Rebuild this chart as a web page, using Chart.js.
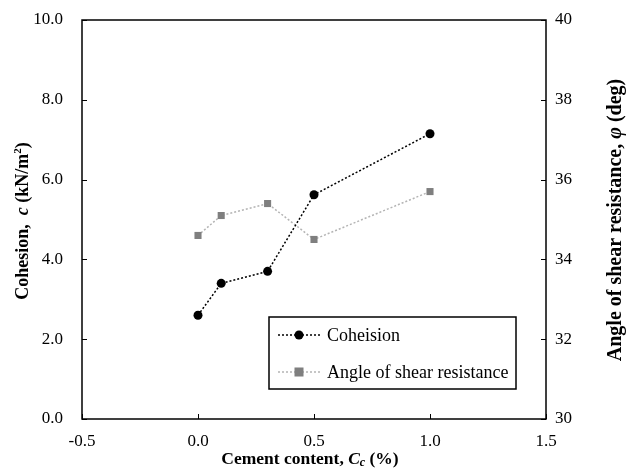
<!DOCTYPE html>
<html>
<head>
<meta charset="utf-8">
<script src="https://cdn.jsdelivr.net/npm/chart.js@4.4.1/dist/chart.umd.min.js"></script>
<style>
  html, body { margin: 0; padding: 0; background: #ffffff; }
  #wrap { width: 633px; height: 475px; position: relative; }
</style>
</head>
<body>
<div id="wrap"><canvas id="c" width="633" height="475"></canvas></div>
<script>
// ---- Data ----
const cementContent = [0.0, 0.1, 0.3, 0.5, 1.0];           // Cc (%)
const cohesionValues = [2.6, 3.4, 3.7, 5.62, 7.15];         // c (kN/m2)
const shearAngleValues = [34.6, 35.1, 35.4, 34.5, 35.7];    // phi (deg)
const seriesNames = ['Coheision', 'Angle of shear resistance'];
const xTickValues = [-0.5, 0.0, 0.5, 1.0, 1.5];
const yLeftTickValues = [0, 2, 4, 6, 8, 10];
const yRightTickValues = [30, 32, 34, 36, 38, 40];

const SERIF = '"Liberation Serif", "Times New Roman", serif';

function toPoints(xs, ys) { return xs.map((x, i) => ({ x: x, y: ys[i] })); }

// Draw text made of several styled parts, centred on (cx, cy), optionally rotated
function drawRich(ctx, parts, cx, cy, rot) {
  ctx.save();
  ctx.translate(cx, cy);
  if (rot) ctx.rotate(rot);
  let total = 0;
  parts.forEach(p => { ctx.font = p.font; p.w = ctx.measureText(p.text).width; total += p.w; });
  let x = -total / 2;
  ctx.textBaseline = 'middle';
  ctx.textAlign = 'left';
  ctx.fillStyle = '#000';
  parts.forEach(p => { ctx.font = p.font; ctx.fillText(p.text, x, p.dy || 0); x += p.w; });
  ctx.restore();
}

const framePlugin = {
  id: 'frameAndTitles',
  afterDraw(chart) {
    const ctx = chart.ctx;
    const a = chart.chartArea;
    const xs = chart.scales.x, yl = chart.scales.y, yr = chart.scales.y1;
    ctx.save();
    ctx.strokeStyle = '#000';
    ctx.lineWidth = 1.5;
    ctx.strokeRect(a.left, a.top, a.right - a.left, a.bottom - a.top);
    ctx.lineWidth = 1;
    const tl = 5;
    ctx.beginPath();
    xTickValues.forEach(v => { const px = Math.round(xs.getPixelForValue(v)) + 0.5; ctx.moveTo(px, a.bottom); ctx.lineTo(px, a.bottom - tl); });
    yLeftTickValues.forEach(v => { const py = Math.round(yl.getPixelForValue(v)) + 0.5; ctx.moveTo(a.left, py); ctx.lineTo(a.left + tl, py); });
    yRightTickValues.forEach(v => { const py = Math.round(yr.getPixelForValue(v)) + 0.5; ctx.moveTo(a.right, py); ctx.lineTo(a.right - tl, py); });
    ctx.stroke();

    // Legend box (inside plot)
    const lx = 269, ly = 317, lw = 247, lh = 72;
    ctx.fillStyle = '#fff';
    ctx.fillRect(lx, ly, lw, lh);
    ctx.lineWidth = 1.5;
    ctx.strokeStyle = '#000';
    ctx.strokeRect(lx, ly, lw, lh);
    chart.data.datasets.forEach((ds, i) => {
      const cy = ly + 18 + i * 37;
      ctx.save();
      ctx.strokeStyle = ds.borderColor;
      ctx.lineWidth = ds.borderWidth;
      ctx.setLineDash(ds.borderDash);
      ctx.beginPath(); ctx.moveTo(lx + 9, cy); ctx.lineTo(lx + 51, cy); ctx.stroke();
      ctx.restore();
      ctx.fillStyle = ds.pointBackgroundColor;
      if (ds.pointStyle === 'rect') {
        ctx.fillRect(lx + 30 - 4.5, cy - 4.5, 9, 9);
      } else {
        ctx.beginPath(); ctx.arc(lx + 30, cy, 4.5, 0, Math.PI * 2); ctx.fill();
      }
      ctx.fillStyle = '#000';
      ctx.font = '18px ' + SERIF;
      ctx.textBaseline = 'middle';
      ctx.textAlign = 'left';
      ctx.fillText(ds.label, lx + 58, cy + 1);
    });

    // Axis titles
    const fB = s => 'bold ' + s + 'px ' + SERIF, fBI = s => 'italic bold ' + s + 'px ' + SERIF;
    drawRich(ctx, [
      { text: 'Cohesion,  ', font: fB(18) },
      { text: 'c', font: fBI(18) },
      { text: ' (kN/m', font: fB(18) },
      { text: '2', font: fB(11), dy: -5 },
      { text: ')', font: fB(18) }
    ], 23, 221, -Math.PI / 2);
    drawRich(ctx, [
      { text: 'Angle of shear resistance, ', font: fB(20) },
      { text: 'φ', font: fBI(20) },
      { text: ' (deg)', font: fB(20) }
    ], 616, 220, -Math.PI / 2);
    drawRich(ctx, [
      { text: 'Cement content, ', font: fB(17.5) },
      { text: 'C', font: fBI(17.5) },
      { text: 'c', font: fBI(12), dy: 4 },
      { text: ' (%)', font: fB(17.5) }
    ], 310, 459, 0);
    ctx.restore();
  }
};

new Chart(document.getElementById('c'), {
  type: 'line',
  data: {
    datasets: [
      {
        label: seriesNames[0],
        data: toPoints(cementContent, cohesionValues),
        yAxisID: 'y',
        borderColor: '#000000',
        borderWidth: 1.5,
        borderDash: [2, 2],
        pointStyle: 'circle',
        pointRadius: 4.5,
        pointBackgroundColor: '#000000',
        pointBorderColor: '#000000',
        pointBorderWidth: 0,
        tension: 0,
        fill: false
      },
      {
        label: seriesNames[1],
        data: toPoints(cementContent, shearAngleValues),
        yAxisID: 'y1',
        borderColor: '#b4b4b4',
        borderWidth: 1.5,
        borderDash: [2, 2],
        pointStyle: 'rect',
        pointRadius: 5,
        pointBackgroundColor: '#7f7f7f',
        pointBorderColor: '#7f7f7f',
        pointBorderWidth: 0,
        tension: 0,
        fill: false
      }
    ]
  },
  options: {
    responsive: false,
    animation: false,
    devicePixelRatio: 1,
    layout: { padding: { top: 20, left: 0, right: 0, bottom: 0 } },
    plugins: { legend: { display: false }, tooltip: { enabled: false }, title: { display: false } },
    scales: {
      x: {
        type: 'linear', min: -0.5, max: 1.5,
        afterBuildTicks: s => { s.ticks = xTickValues.map(v => ({ value: v })); },
        afterFit: s => { s.height = 56; },
        grid: { display: false, drawTicks: false },
        border: { display: false },
        ticks: { padding: 12, color: '#000', font: { family: SERIF, size: 17 }, callback: v => Number(v).toFixed(1), maxRotation: 0 }
      },
      y: {
        type: 'linear', position: 'left', min: 0, max: 10,
        afterBuildTicks: s => { s.ticks = yLeftTickValues.map(v => ({ value: v })); },
        afterFit: s => { s.width = 82; },
        grid: { display: false, drawTicks: true, tickLength: 17 },
        border: { display: false },
        ticks: { padding: 2, color: '#000', font: { family: SERIF, size: 17 }, callback: v => Number(v).toFixed(1) }
      },
      y1: {
        type: 'linear', position: 'right', min: 30, max: 40,
        afterBuildTicks: s => { s.ticks = yRightTickValues.map(v => ({ value: v })); },
        afterFit: s => { s.width = 87; },
        grid: { display: false, drawTicks: true, tickLength: 7 },
        border: { display: false },
        ticks: { padding: 2, color: '#000', font: { family: SERIF, size: 17 }, callback: v => String(v) }
      }
    }
  },
  plugins: [framePlugin]
});
</script>
</body>
</html>
